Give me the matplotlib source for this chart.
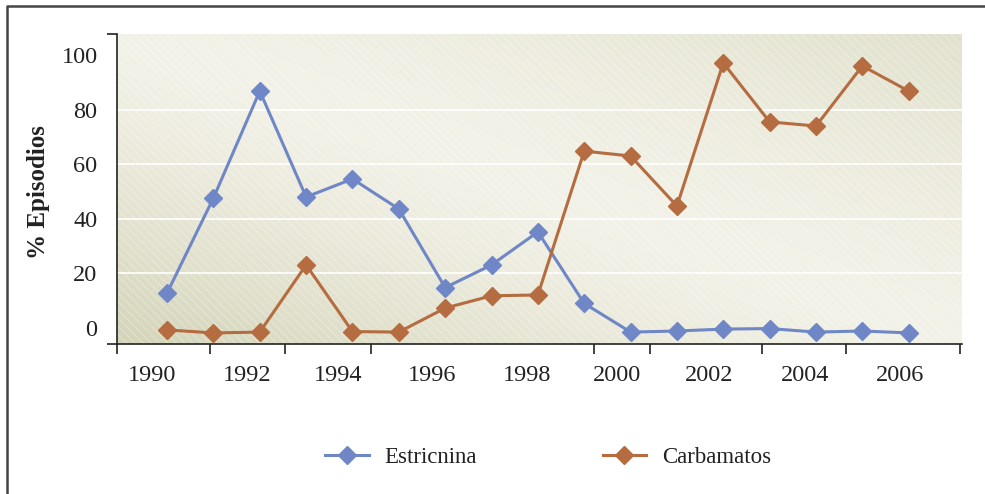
import numpy as np
import matplotlib
matplotlib.use('Agg')
import matplotlib.pyplot as plt
from matplotlib.lines import Line2D
from matplotlib.patches import Rectangle

# data
years = list(range(1990, 2007))
estricnina = [12.8, 47.6, 86.8, 48.0, 54.6, 43.6, 14.8, 23.1, 35.2, 9.0,
              -1.5, -1.1, -0.4, -0.2, -1.5, -1.1, -1.8]
carbamatos = [-0.7, -1.8, -1.5, 23.1, -1.3, -1.5, 7.3, 11.8, 12.1, 64.8,
              63.0, 44.7, 97.1, 75.5, 74.0, 96.0, 86.8]

# odd label / tick placement of the original picture
ytick_vals = [0, 20, 40, 60, 80, 100]
xlabel_text = ['1990', '1992', '1994', '1996', '1998', '2000', '2002', '2004', '2006']
xlabel_pos = [1989.68, 1991.73, 1993.69, 1995.72, 1997.77, 1999.71, 2001.69, 2003.76, 2005.81]
xtick_pos = [1988.92, 1990.93, 1992.55, 1994.40, 1999.21, 2000.42, 2002.83, 2004.64, 2007.11]

plt.rcParams['font.family'] = ['Liberation Serif', 'DejaVu Serif']

W, H = 985, 494
fig = plt.figure(figsize=(W / 100, H / 100), dpi=100)
ax = fig.add_axes([117 / W, 1 - 344 / H, (962 - 117) / W, (344 - 34) / H])

xmin, xmax = 1988.92, 2007.15
ymin, ymax = -5.86, 107.7
ax.set_xlim(xmin, xmax)
ax.set_ylim(ymin, ymax)

# background gradient
nx, ny = 300, 120
gx, gy = np.meshgrid(np.linspace(0, 1, nx), np.linspace(0, 1, ny))
d = (gx + gy) / 2 - 0.5
light = np.array([243, 242, 232]) / 255
dark_ll = np.array([212, 212, 185]) / 255
dark_tr = np.array([225, 225, 205]) / 255
w_ll = np.clip(-d * 2, 0, 1) ** 1.3
w_tr = np.clip(d * 2, 0, 1) ** 1.3
img = (light[None, None, :] * (1 - w_ll - w_tr)[..., None]
       + dark_ll[None, None, :] * w_ll[..., None]
       + dark_tr[None, None, :] * w_tr[..., None])
ax.imshow(img, extent=[xmin, xmax, ymin, ymax], origin='lower',
          aspect='auto', zorder=0, interpolation='bilinear')
plt.rcParams['hatch.linewidth'] = 0.6
ax.add_patch(Rectangle((0, 0), 1, 1, transform=ax.transAxes, facecolor='none',
                       edgecolor=(1, 1, 1, 0.35), hatch='\\\\\\\\', lw=0, zorder=0.5))

for v in [20, 40, 60, 80]:
    ax.axhline(v, color='white', lw=1.2, zorder=1)

blue = '#6f87c6'
brown = '#b46c40'
ax.plot(years, estricnina, color=blue, lw=2.2, marker='D', ms=8.8,
        label='Estricnina', zorder=3)
ax.plot(years, carbamatos, color=brown, lw=2.2, marker='D', ms=8.8,
        label='Carbamatos', zorder=3)

for s in ['top', 'right']:
    ax.spines[s].set_visible(False)
for s in ['left', 'bottom']:
    ax.spines[s].set_color('#222222')
    ax.spines[s].set_linewidth(1.2)

ax.set_yticks(ytick_vals)
ax.set_yticklabels([str(v) for v in ytick_vals], fontsize=17.5, color='#222222')
ax.tick_params(axis='y', which='major', length=0, pad=14)
ax.set_yticks([ymin, ymax], minor=True)
ax.tick_params(axis='y', which='minor', length=7, width=1.2, color='#222222')

ax.set_xticks(xtick_pos)
ax.set_xticklabels([''] * len(xtick_pos))
ax.tick_params(axis='x', which='major', length=7, width=1.2, color='#222222')
ylab_row = -(375 - 344) / (344 - 34)
for xp, t in zip(xlabel_pos, xlabel_text):
    ax.text(xp, ylab_row, t, transform=ax.get_xaxis_transform(), ha='center',
            va='center', fontsize=17.5, color='#222222')

fig.text(38 / W, 1 - 192 / H, '% Episodios', rotation=90, ha='center',
         va='center', fontsize=18, fontweight='bold', color='#222222')

leg = fig.legend(loc='center', bbox_to_anchor=(548 / W, 1 - 457 / H), ncol=2,
                 frameon=False, fontsize=16.5, handlelength=1.9,
                 handletextpad=0.68, columnspacing=5.5)
for t in leg.get_texts():
    t.set_color('#222222')

# outer frame (left and top edges)
fig.add_artist(Line2D([7 / W, 7 / W, 1], [0, 1 - 6 / H, 1 - 6 / H],
                      transform=fig.transFigure, color='#444444', lw=1.8))

fig.savefig('out.png', dpi=100)
